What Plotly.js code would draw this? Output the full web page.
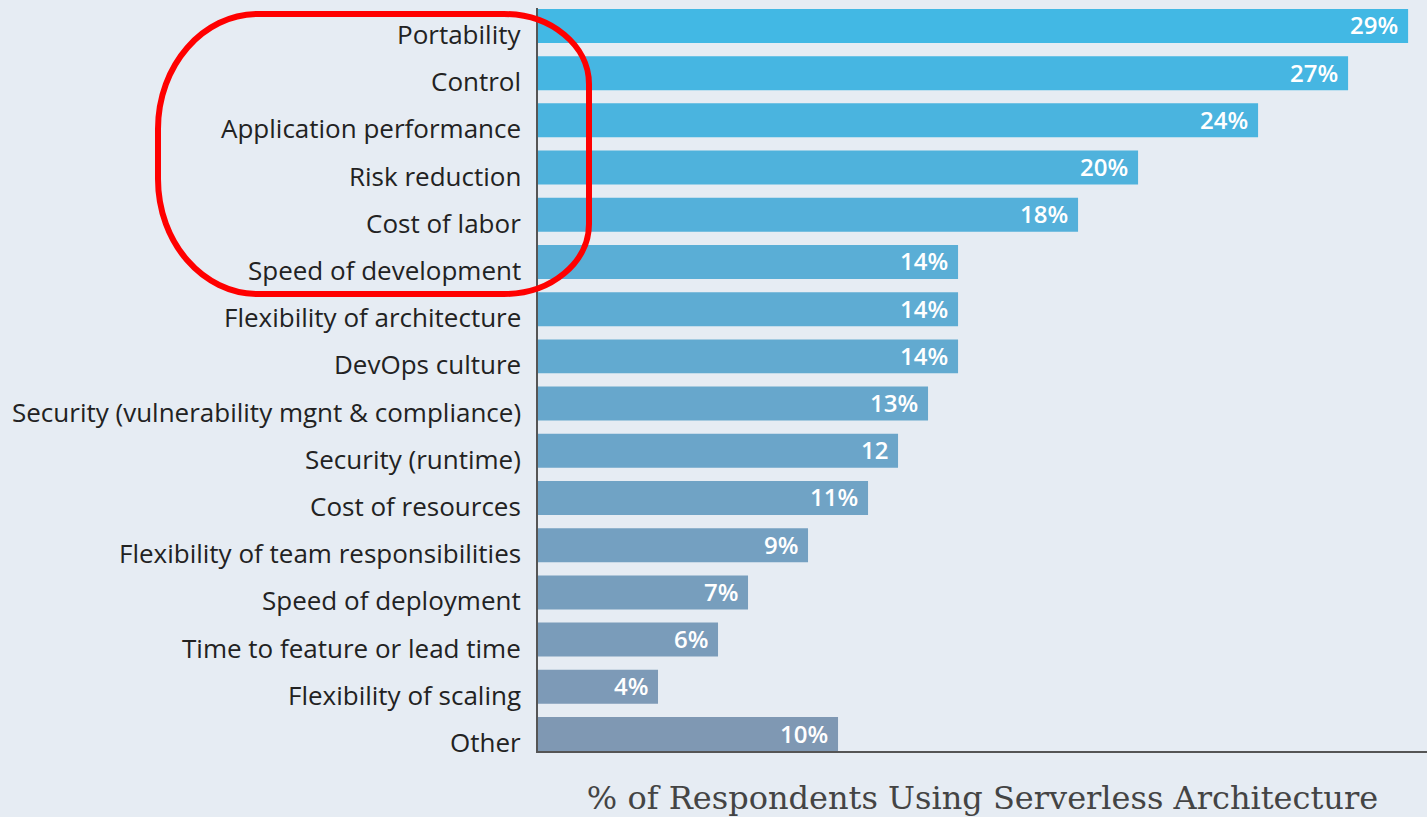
<!DOCTYPE html>
<html>
<head>
<meta charset="utf-8">
<script src="https://cdn.plot.ly/plotly-3.0.1.min.js"></script>
<style>
html,body{margin:0;padding:0;background:#e6ecf3;}
#chart{width:1427px;height:817px;}
</style>
</head>
<body>
<div id="chart"></div>
<script>
const categories = [
  "Portability",
  "Control",
  "Application performance",
  "Risk reduction",
  "Cost of labor",
  "Speed of development",
  "Flexibility of architecture",
  "DevOps culture",
  "Security (vulnerability mgnt & compliance)",
  "Security (runtime)",
  "Cost of resources",
  "Flexibility of team responsibilities",
  "Speed of deployment",
  "Time to feature or lead time",
  "Flexibility of scaling",
  "Other"
];
const values = [29, 27, 24, 20, 18, 14, 14, 14, 13, 12, 11, 9, 7, 6, 4, 10];
const valueLabels = ["29%", "27%", "24%", "20%", "18%", "14%", "14%", "14%", "13%", "12", "11%", "9%", "7%", "6%", "4%", "10%"];
const barColors = [
  "#42b8e4", "#46b6e2", "#4ab4df", "#4fb2dc", "#54b0da", "#5aaed6",
  "#5eacd3", "#62aad0", "#67a7cc", "#6ba5c9", "#70a3c5", "#74a0c1",
  "#779ebd", "#7a9cba", "#7d9ab7", "#7f98b3"
];
const axisTitle = "% of Respondents Using Serverless Architecture";

// plot geometry (pixels)
const W = 1427, H = 817;
const L = 538, R = 0, T = 8, B = 66;
const pw = W - L - R, ph = H - T - B;
function px(x) { return (x - L) / pw; }
function py(y) { return (H - B - y) / ph; }

// red rounded outline around the top labels (pixel geometry -> paper coords)
function roundedPath(x0, y0, x1, y1, rxl, ryl, rxr, ryr) {
  const k = 0.5523;
  const p = (x, y) => px(x).toFixed(5) + "," + py(y).toFixed(5);
  let d = "M" + p(x0 + rxl, y0);
  d += " L" + p(x1 - rxr, y0);
  d += " C" + p(x1 - rxr + k * rxr, y0) + " " + p(x1, y0 + ryr - k * ryr) + " " + p(x1, y0 + ryr);
  d += " L" + p(x1, y1 - ryr);
  d += " C" + p(x1, y1 - ryr + k * ryr) + " " + p(x1 - rxr + k * rxr, y1) + " " + p(x1 - rxr, y1);
  d += " L" + p(x0 + rxl, y1);
  d += " C" + p(x0 + rxl - k * rxl, y1) + " " + p(x0, y1 - ryl + k * ryl) + " " + p(x0, y1 - ryl);
  d += " L" + p(x0, y0 + ryl);
  d += " C" + p(x0, y0 + ryl - k * ryl) + " " + p(x0 + rxl - k * rxl, y0) + " " + p(x0 + rxl, y0);
  d += " Z";
  return d;
}

const trace = {
  type: "bar",
  orientation: "h",
  y: categories,
  x: values,
  width: 0.72,
  marker: { color: barColors, line: { width: 0 } },
  hoverinfo: "x+y"
};

const annotations = [];
categories.forEach((c, i) => {
  annotations.push({
    x: 0, xref: "paper", y: c, yref: "y",
    text: c, showarrow: false, xanchor: "right", yanchor: "middle",
    xshift: -15, yshift: -8,
    font: { family: "'Open Sans', Roboto, sans-serif", size: 26, color: "#222222" }
  });
  annotations.push({
    x: values[i], xref: "x", y: c, yref: "y",
    text: valueLabels[i], showarrow: false, xanchor: "right", yanchor: "middle",
    xshift: -8, yshift: 1,
    font: { family: "'Open Sans', Roboto, sans-serif", size: 24, color: "#ffffff", weight: 600 }
  });
});

const layout = {
  width: W, height: H,
  paper_bgcolor: "#e6ecf3",
  plot_bgcolor: "#e6ecf3",
  margin: { l: L, r: R, t: T, b: B, pad: 0 },
  showlegend: false,
  bargap: 0.28,
  xaxis: {
    range: [0, 29.63],
    showgrid: false, zeroline: false,
    showline: true, linecolor: "#555555", linewidth: 2,
    showticklabels: false, ticks: "",
    fixedrange: true,
    title: {
      text: axisTitle,
      standoff: 37,
      font: { family: "'DejaVu Serif', serif", size: 32, color: "#444444" }
    }
  },
  yaxis: {
    type: "category",
    categoryorder: "array",
    categoryarray: categories,
    range: [15.36, -0.38],
    showgrid: false, zeroline: false,
    showline: true, linecolor: "#555555", linewidth: 2,
    showticklabels: false, ticks: "",
    fixedrange: true
  },
  annotations: annotations,
  shapes: [{
    type: "path",
    xref: "paper", yref: "paper",
    path: roundedPath(158, 14, 589, 294, 100, 115, 85, 70),
    line: { color: "#ff0000", width: 6 },
    fillcolor: "rgba(0,0,0,0)",
    layer: "above"
  }]
};

Plotly.newPlot("chart", [trace], layout, { displayModeBar: false, staticPlot: true });
</script>
</body>
</html>
